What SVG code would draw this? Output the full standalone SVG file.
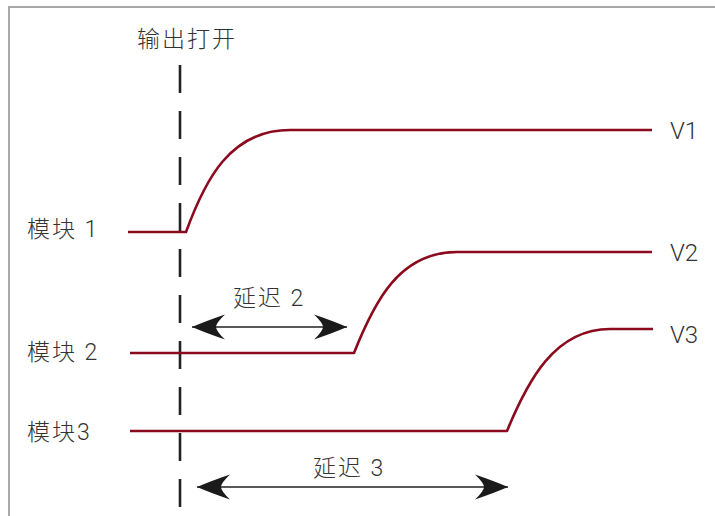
<svg xmlns="http://www.w3.org/2000/svg" width="715" height="516" viewBox="0 0 715 516">
<style>
.t{font-family:"Roboto","Noto Sans CJK SC",sans-serif;font-weight:300;font-size:23px;fill:#333;letter-spacing:2px}
.v{font-family:"Roboto","Noto Sans CJK SC",sans-serif;font-weight:300;font-size:24px;fill:#333}
.w{fill:none;stroke:#8b0a1e;stroke-width:2.6;stroke-linejoin:round}
.a{stroke:#222;stroke-width:1.3;fill:none}
</style>
<defs>
<marker id="ah" markerUnits="userSpaceOnUse" viewBox="-36 -15 38 30" refX="0" refY="0" markerWidth="38" markerHeight="30" orient="auto-start-reverse">
<path d="M0,0 Q-14,-6 -33,-12.5 Q-24,-4 -24,0 Q-24,4 -33,12.5 Q-14,6 0,0 Z" fill="#1a1a1a"/>
</marker>
</defs>
<rect width="715" height="516" fill="#fff"/>
<g id="frame" stroke="#a8a8a8" stroke-width="2" fill="none">
<path d="M9,516 V7 H715"/>
</g>
<g id="output-on">
<text class="t" x="137" y="47">输出打开</text>
<line x1="180" y1="65" x2="180" y2="508" stroke="#222" stroke-width="2.6" stroke-dasharray="28 18"/>
</g>
<g id="module1">
<text class="t" x="27" y="237">模块 1</text>
<path class="w" d="M128,232 H186 C205,180 230,130 290,130 H652"/>
<text class="v" x="670" y="139">V1</text>
</g>
<g id="module2">
<text class="t" x="27" y="360">模块 2</text>
<path class="w" d="M130,353 H354 C375,300 400,252 457,252 H652"/>
<text class="v" x="670" y="261">V2</text>
</g>
<g id="module3">
<text class="t" x="27" y="440">模块3</text>
<path class="w" d="M130,431 H507 C528,380 555,329 610,329 H653"/>
<text class="v" x="670" y="343">V3</text>
</g>
<g id="connectors">
<line class="a" x1="192" y1="327" x2="347" y2="327" marker-start="url(#ah)" marker-end="url(#ah)"/>
<line class="a" x1="197" y1="487" x2="508" y2="487" marker-start="url(#ah)" marker-end="url(#ah)"/>
</g>
<g id="labels">
<text class="t" x="233" y="306">延迟 2</text>
<text class="t" x="313" y="476">延迟 3</text>
</g>
</svg>
